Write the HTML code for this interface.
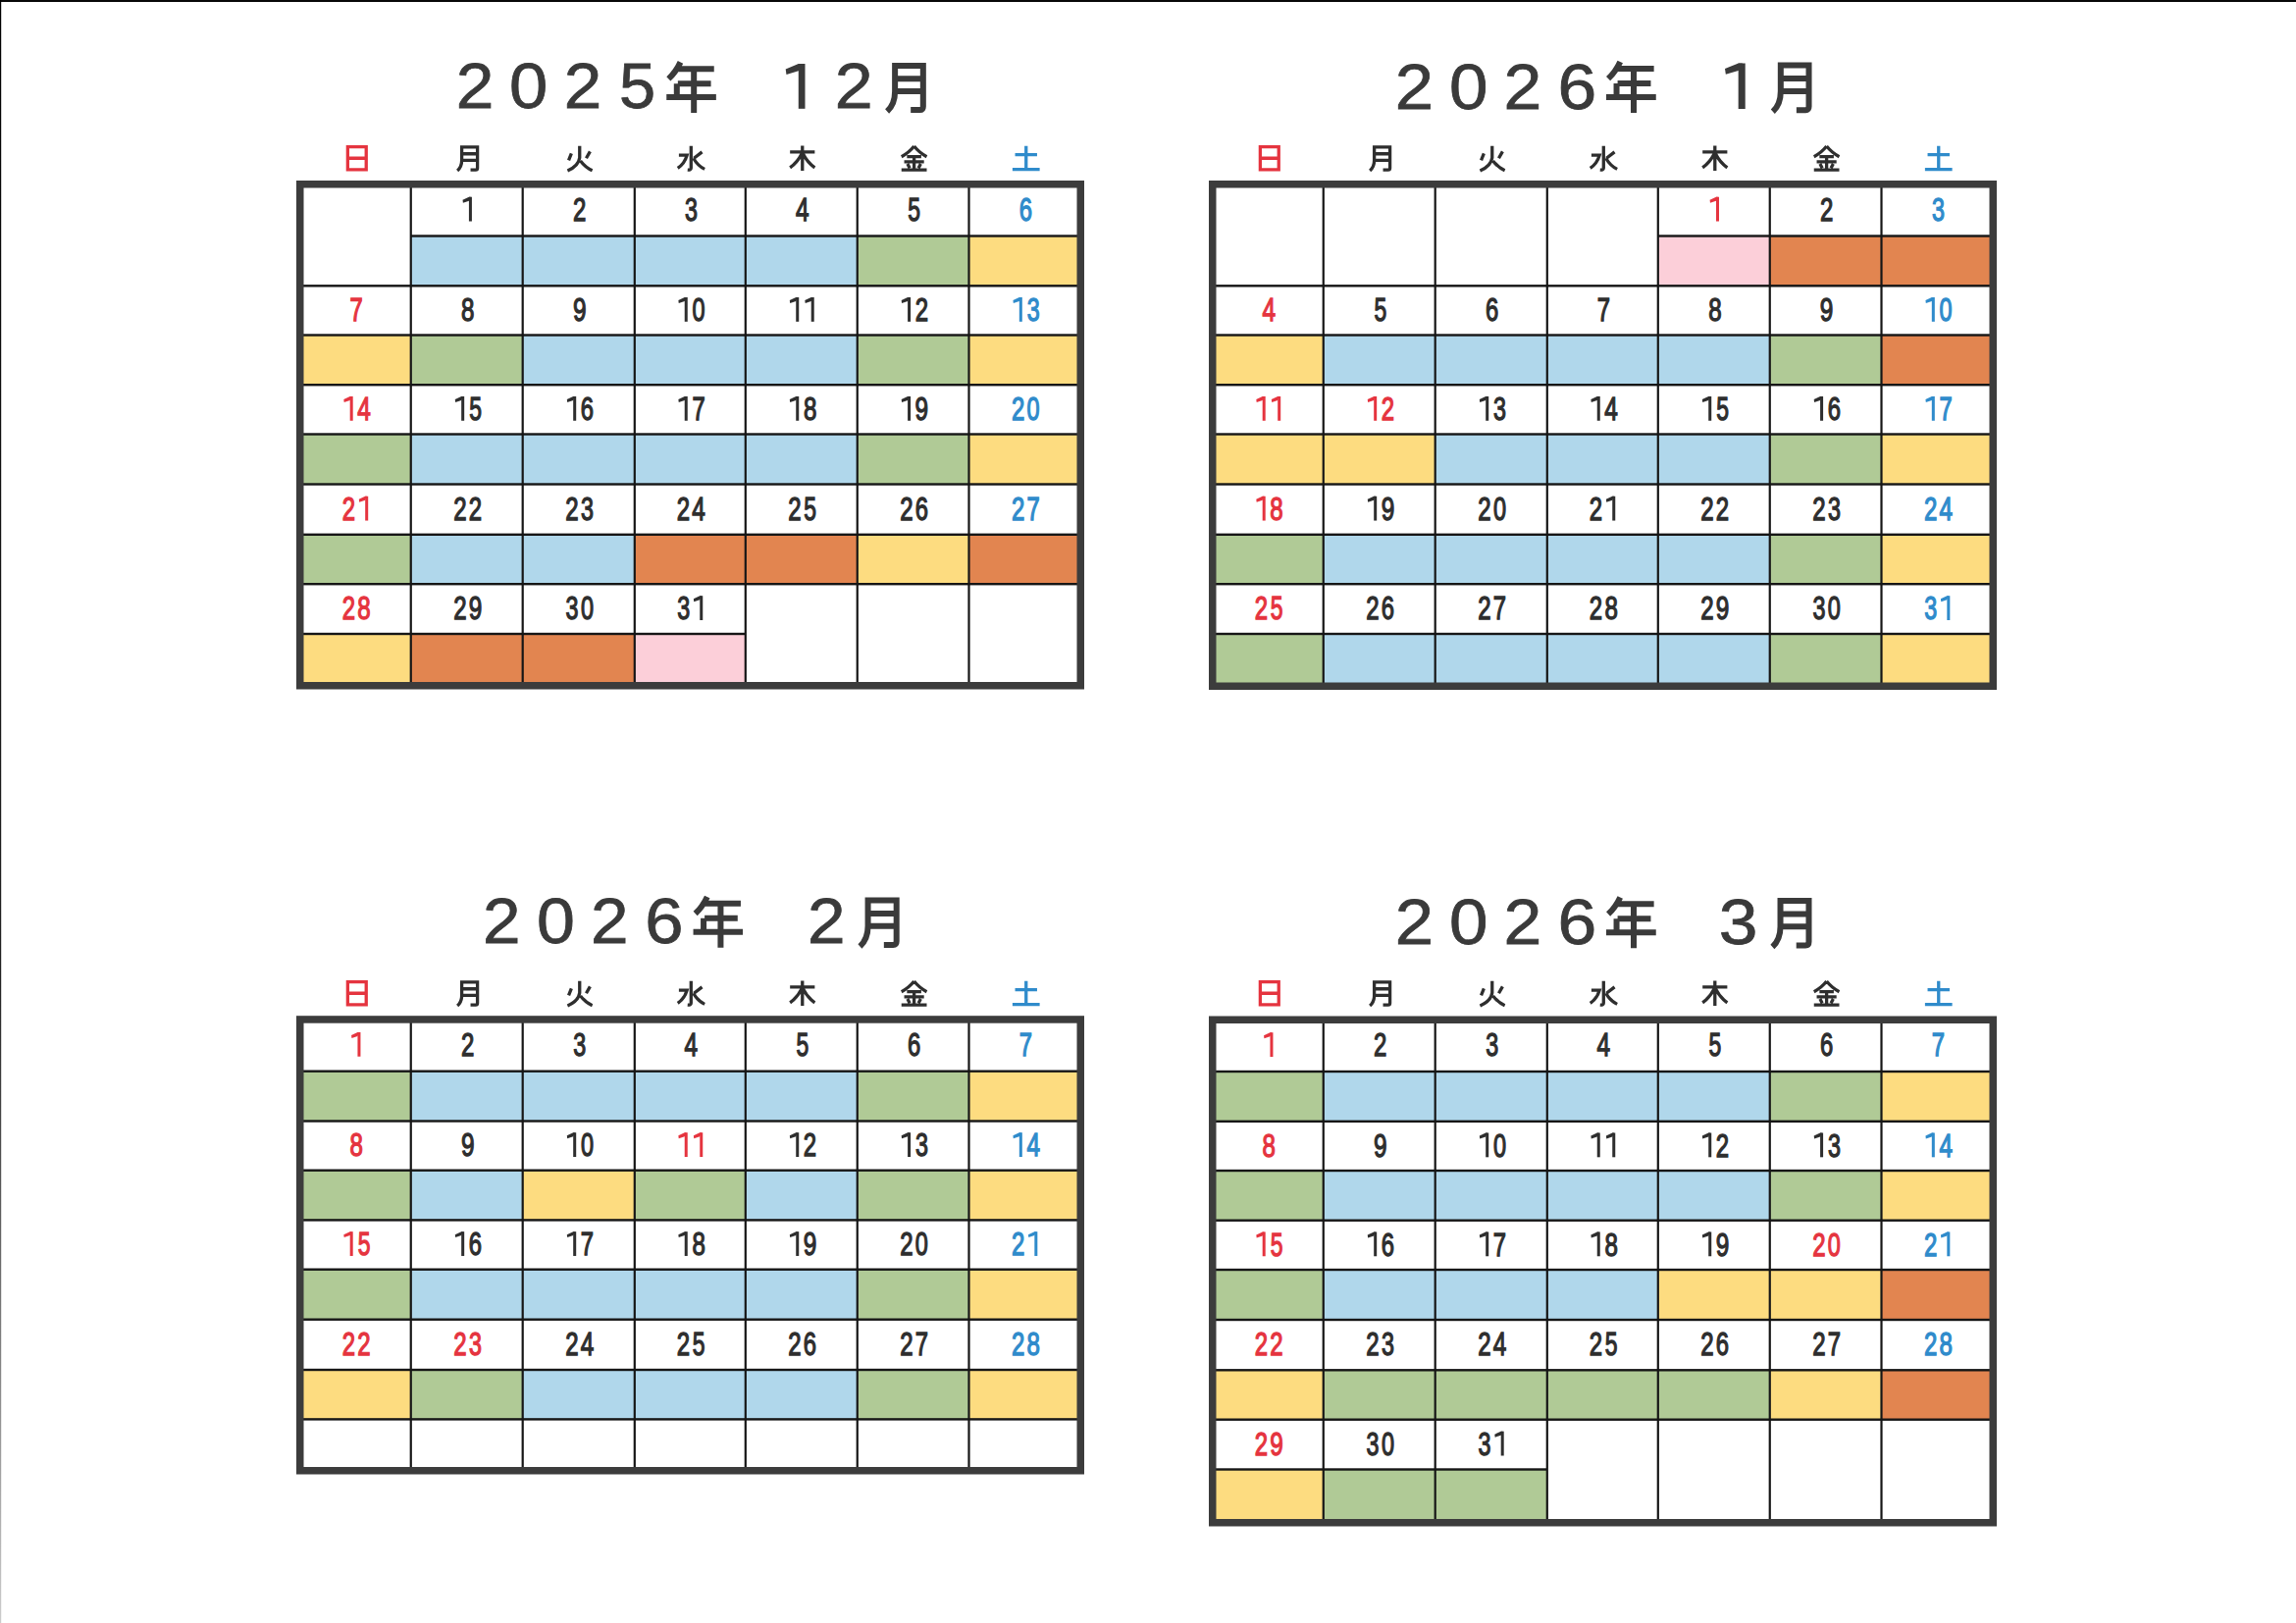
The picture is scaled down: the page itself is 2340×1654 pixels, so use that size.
<!DOCTYPE html>
<html><head><meta charset="utf-8"><style>
html,body{margin:0;padding:0;background:#fff;width:2340px;height:1654px;overflow:hidden;position:relative;font-family:"Liberation Sans",sans-serif;}
</style></head><body>
<svg width="2340" height="1654" viewBox="0 0 2340 1654" style="position:absolute;left:0;top:0" font-family="Liberation Sans, sans-serif">
<rect width="2340" height="1654" fill="#fff"/>
<defs><linearGradient id="lg" x1="0" y1="0" x2="0" y2="1"><stop offset="0" stop-color="#000"/><stop offset="0.6" stop-color="#222"/><stop offset="0.85" stop-color="#888"/><stop offset="1" stop-color="#ccc"/></linearGradient></defs>
<rect x="0" y="0" width="2340" height="2" fill="#080808"/>
<rect x="0" y="0" width="1.2" height="1654" fill="url(#lg)"/>
<rect x="302" y="184" width="803" height="518.5" fill="#fff"/>
<rect x="418.75" y="240.50" width="113.95" height="50.80" fill="#B0D7EB"/>
<rect x="532.70" y="240.50" width="114.10" height="50.80" fill="#B0D7EB"/>
<rect x="646.80" y="240.50" width="113.00" height="50.80" fill="#B0D7EB"/>
<rect x="759.80" y="240.50" width="113.95" height="50.80" fill="#B0D7EB"/>
<rect x="873.75" y="240.50" width="113.75" height="50.80" fill="#B0CA96"/>
<rect x="987.50" y="240.50" width="113.75" height="50.80" fill="#FDDC80"/>
<rect x="305.75" y="341.50" width="113.00" height="50.70" fill="#FDDC80"/>
<rect x="418.75" y="341.50" width="113.95" height="50.70" fill="#B0CA96"/>
<rect x="532.70" y="341.50" width="114.10" height="50.70" fill="#B0D7EB"/>
<rect x="646.80" y="341.50" width="113.00" height="50.70" fill="#B0D7EB"/>
<rect x="759.80" y="341.50" width="113.95" height="50.70" fill="#B0D7EB"/>
<rect x="873.75" y="341.50" width="113.75" height="50.70" fill="#B0CA96"/>
<rect x="987.50" y="341.50" width="113.75" height="50.70" fill="#FDDC80"/>
<rect x="305.75" y="442.50" width="113.00" height="51.00" fill="#B0CA96"/>
<rect x="418.75" y="442.50" width="113.95" height="51.00" fill="#B0D7EB"/>
<rect x="532.70" y="442.50" width="114.10" height="51.00" fill="#B0D7EB"/>
<rect x="646.80" y="442.50" width="113.00" height="51.00" fill="#B0D7EB"/>
<rect x="759.80" y="442.50" width="113.95" height="51.00" fill="#B0D7EB"/>
<rect x="873.75" y="442.50" width="113.75" height="51.00" fill="#B0CA96"/>
<rect x="987.50" y="442.50" width="113.75" height="51.00" fill="#FDDC80"/>
<rect x="305.75" y="544.80" width="113.00" height="50.40" fill="#B0CA96"/>
<rect x="418.75" y="544.80" width="113.95" height="50.40" fill="#B0D7EB"/>
<rect x="532.70" y="544.80" width="114.10" height="50.40" fill="#B0D7EB"/>
<rect x="646.80" y="544.80" width="113.00" height="50.40" fill="#E28550"/>
<rect x="759.80" y="544.80" width="113.95" height="50.40" fill="#E28550"/>
<rect x="873.75" y="544.80" width="113.75" height="50.40" fill="#FDDC80"/>
<rect x="987.50" y="544.80" width="113.75" height="50.40" fill="#E28550"/>
<rect x="305.75" y="646.00" width="113.00" height="52.75" fill="#FDDC80"/>
<rect x="418.75" y="646.00" width="113.95" height="52.75" fill="#E28550"/>
<rect x="532.70" y="646.00" width="114.10" height="52.75" fill="#E28550"/>
<rect x="646.80" y="646.00" width="113.00" height="52.75" fill="#FCCFD9"/>
<rect x="418.75" y="239.30" width="686.25" height="2.4" fill="#161616"/>
<rect x="305.75" y="290.10" width="795.5" height="2.4" fill="#161616"/>
<rect x="302.00" y="340.30" width="803.00" height="2.4" fill="#161616"/>
<rect x="305.75" y="391.00" width="795.5" height="2.4" fill="#161616"/>
<rect x="302.00" y="441.30" width="803.00" height="2.4" fill="#161616"/>
<rect x="305.75" y="492.30" width="795.5" height="2.4" fill="#161616"/>
<rect x="302.00" y="543.60" width="803.00" height="2.4" fill="#161616"/>
<rect x="305.75" y="594.00" width="795.5" height="2.4" fill="#161616"/>
<rect x="302.00" y="644.80" width="457.80" height="2.4" fill="#161616"/>
<rect x="417.65" y="187.75" width="2.2" height="511.0" fill="#161616"/>
<rect x="531.60" y="187.75" width="2.2" height="511.0" fill="#161616"/>
<rect x="645.70" y="187.75" width="2.2" height="511.0" fill="#161616"/>
<rect x="758.70" y="187.75" width="2.2" height="511.0" fill="#161616"/>
<rect x="872.65" y="187.75" width="2.2" height="511.0" fill="#161616"/>
<rect x="986.40" y="187.75" width="2.2" height="511.0" fill="#161616"/>
<rect x="305.75" y="187.75" width="795.5" height="511.0" fill="none" stroke="#3c3c3c" stroke-width="7.5"/>
<path d="M477.92,200.72 h3.01 V225.53 h-3.01 Z" fill="#2E2E2E"/>
<path d="M479.72,200.72 L477.92,200.72 L471.53,203.70 L471.90,206.68 L477.93,204.69 Z" fill="#2E2E2E"/>
<text transform="translate(584.03,224.85) scale(0.2400,0.3351)" font-size="100" fill="#2E2E2E" stroke="#2E2E2E" stroke-width="4.0">2</text>
<text transform="translate(697.88,224.85) scale(0.2333,0.3351)" font-size="100" fill="#2E2E2E" stroke="#2E2E2E" stroke-width="4.0">3</text>
<text transform="translate(811.07,224.85) scale(0.2436,0.3351)" font-size="100" fill="#2E2E2E" stroke="#2E2E2E" stroke-width="4.0">4</text>
<text transform="translate(925.32,224.85) scale(0.2294,0.3351)" font-size="100" fill="#2E2E2E" stroke="#2E2E2E" stroke-width="4.0">5</text>
<text transform="translate(1038.71,224.85) scale(0.2380,0.3351)" font-size="100" fill="#2F8BCB" stroke="#2F8BCB" stroke-width="4.0">6</text>
<text transform="translate(356.59,327.13) scale(0.2380,0.3351)" font-size="100" fill="#E5343F" stroke="#E5343F" stroke-width="4.0">7</text>
<text transform="translate(470.09,327.13) scale(0.2412,0.3351)" font-size="100" fill="#2E2E2E" stroke="#2E2E2E" stroke-width="4.0">8</text>
<text transform="translate(583.92,327.13) scale(0.2440,0.3351)" font-size="100" fill="#2E2E2E" stroke="#2E2E2E" stroke-width="4.0">9</text>
<path d="M697.74,303.00 h3.01 V327.80 h-3.01 Z" fill="#2E2E2E"/>
<path d="M699.55,303.00 L697.74,303.00 L691.35,305.98 L691.73,308.95 L697.75,306.97 Z" fill="#2E2E2E"/>
<text transform="translate(705.48,327.13) scale(0.2346,0.3351)" font-size="100" fill="#2E2E2E" stroke="#2E2E2E" stroke-width="4.0">0</text>
<path d="M811.22,303.00 h3.01 V327.80 h-3.01 Z" fill="#2E2E2E"/>
<path d="M813.02,303.00 L811.22,303.00 L804.82,305.98 L805.20,308.95 L811.23,306.97 Z" fill="#2E2E2E"/>
<path d="M826.72,303.00 h3.01 V327.80 h-3.01 Z" fill="#2E2E2E"/>
<path d="M828.52,303.00 L826.72,303.00 L820.32,305.98 L820.70,308.95 L826.73,306.97 Z" fill="#2E2E2E"/>
<path d="M925.07,303.00 h3.01 V327.80 h-3.01 Z" fill="#2E2E2E"/>
<path d="M926.87,303.00 L925.07,303.00 L918.67,305.98 L919.05,308.95 L925.08,306.97 Z" fill="#2E2E2E"/>
<text transform="translate(932.65,327.13) scale(0.2400,0.3351)" font-size="100" fill="#2E2E2E" stroke="#2E2E2E" stroke-width="4.0">2</text>
<path d="M1038.82,303.00 h3.01 V327.80 h-3.01 Z" fill="#2F8BCB"/>
<path d="M1040.62,303.00 L1038.82,303.00 L1032.42,305.98 L1032.80,308.95 L1038.83,306.97 Z" fill="#2F8BCB"/>
<text transform="translate(1046.71,327.13) scale(0.2333,0.3351)" font-size="100" fill="#2F8BCB" stroke="#2F8BCB" stroke-width="4.0">3</text>
<path d="M356.69,403.95 h3.01 V428.75 h-3.01 Z" fill="#E5343F"/>
<path d="M358.50,403.95 L356.69,403.95 L350.30,406.93 L350.68,409.90 L356.70,407.92 Z" fill="#E5343F"/>
<text transform="translate(364.30,428.08) scale(0.2436,0.3351)" font-size="100" fill="#E5343F" stroke="#E5343F" stroke-width="4.0">4</text>
<path d="M470.17,403.95 h3.01 V428.75 h-3.01 Z" fill="#2E2E2E"/>
<path d="M471.97,403.95 L470.17,403.95 L463.78,406.93 L464.15,409.90 L470.18,407.92 Z" fill="#2E2E2E"/>
<text transform="translate(478.17,428.08) scale(0.2294,0.3351)" font-size="100" fill="#2E2E2E" stroke="#2E2E2E" stroke-width="4.0">5</text>
<path d="M584.19,403.95 h3.01 V428.75 h-3.01 Z" fill="#2E2E2E"/>
<path d="M586.00,403.95 L584.19,403.95 L577.80,406.93 L578.18,409.90 L584.20,407.92 Z" fill="#2E2E2E"/>
<text transform="translate(591.84,428.08) scale(0.2380,0.3351)" font-size="100" fill="#2E2E2E" stroke="#2E2E2E" stroke-width="4.0">6</text>
<path d="M697.74,403.95 h3.01 V428.75 h-3.01 Z" fill="#2E2E2E"/>
<path d="M699.55,403.95 L697.74,403.95 L691.35,406.93 L691.73,409.90 L697.75,407.92 Z" fill="#2E2E2E"/>
<text transform="translate(705.39,428.08) scale(0.2380,0.3351)" font-size="100" fill="#2E2E2E" stroke="#2E2E2E" stroke-width="4.0">7</text>
<path d="M811.22,403.95 h3.01 V428.75 h-3.01 Z" fill="#2E2E2E"/>
<path d="M813.02,403.95 L811.22,403.95 L804.82,406.93 L805.20,409.90 L811.23,407.92 Z" fill="#2E2E2E"/>
<text transform="translate(818.89,428.08) scale(0.2412,0.3351)" font-size="100" fill="#2E2E2E" stroke="#2E2E2E" stroke-width="4.0">8</text>
<path d="M925.07,403.95 h3.01 V428.75 h-3.01 Z" fill="#2E2E2E"/>
<path d="M926.87,403.95 L925.07,403.95 L918.67,406.93 L919.05,409.90 L925.08,407.92 Z" fill="#2E2E2E"/>
<text transform="translate(932.54,428.08) scale(0.2440,0.3351)" font-size="100" fill="#2E2E2E" stroke="#2E2E2E" stroke-width="4.0">9</text>
<text transform="translate(1030.90,428.08) scale(0.2400,0.3351)" font-size="100" fill="#2F8BCB" stroke="#2F8BCB" stroke-width="4.0">2</text>
<text transform="translate(1046.56,428.08) scale(0.2346,0.3351)" font-size="100" fill="#2F8BCB" stroke="#2F8BCB" stroke-width="4.0">0</text>
<text transform="translate(348.78,529.88) scale(0.2400,0.3351)" font-size="100" fill="#E5343F" stroke="#E5343F" stroke-width="4.0">2</text>
<path d="M372.19,505.75 h3.01 V530.55 h-3.01 Z" fill="#E5343F"/>
<path d="M374.00,505.75 L372.19,505.75 L365.80,508.73 L366.18,511.70 L372.20,509.72 Z" fill="#E5343F"/>
<text transform="translate(462.25,529.88) scale(0.2400,0.3351)" font-size="100" fill="#2E2E2E" stroke="#2E2E2E" stroke-width="4.0">2</text>
<text transform="translate(477.75,529.88) scale(0.2400,0.3351)" font-size="100" fill="#2E2E2E" stroke="#2E2E2E" stroke-width="4.0">2</text>
<text transform="translate(576.28,529.88) scale(0.2400,0.3351)" font-size="100" fill="#2E2E2E" stroke="#2E2E2E" stroke-width="4.0">2</text>
<text transform="translate(592.08,529.88) scale(0.2333,0.3351)" font-size="100" fill="#2E2E2E" stroke="#2E2E2E" stroke-width="4.0">3</text>
<text transform="translate(689.83,529.88) scale(0.2400,0.3351)" font-size="100" fill="#2E2E2E" stroke="#2E2E2E" stroke-width="4.0">2</text>
<text transform="translate(705.35,529.88) scale(0.2436,0.3351)" font-size="100" fill="#2E2E2E" stroke="#2E2E2E" stroke-width="4.0">4</text>
<text transform="translate(803.30,529.88) scale(0.2400,0.3351)" font-size="100" fill="#2E2E2E" stroke="#2E2E2E" stroke-width="4.0">2</text>
<text transform="translate(819.22,529.88) scale(0.2294,0.3351)" font-size="100" fill="#2E2E2E" stroke="#2E2E2E" stroke-width="4.0">5</text>
<text transform="translate(917.15,529.88) scale(0.2400,0.3351)" font-size="100" fill="#2E2E2E" stroke="#2E2E2E" stroke-width="4.0">2</text>
<text transform="translate(932.71,529.88) scale(0.2380,0.3351)" font-size="100" fill="#2E2E2E" stroke="#2E2E2E" stroke-width="4.0">6</text>
<text transform="translate(1030.90,529.88) scale(0.2400,0.3351)" font-size="100" fill="#2F8BCB" stroke="#2F8BCB" stroke-width="4.0">2</text>
<text transform="translate(1046.46,529.88) scale(0.2380,0.3351)" font-size="100" fill="#2F8BCB" stroke="#2F8BCB" stroke-width="4.0">7</text>
<text transform="translate(348.78,631.33) scale(0.2400,0.3351)" font-size="100" fill="#E5343F" stroke="#E5343F" stroke-width="4.0">2</text>
<text transform="translate(364.37,631.33) scale(0.2412,0.3351)" font-size="100" fill="#E5343F" stroke="#E5343F" stroke-width="4.0">8</text>
<text transform="translate(462.25,631.33) scale(0.2400,0.3351)" font-size="100" fill="#2E2E2E" stroke="#2E2E2E" stroke-width="4.0">2</text>
<text transform="translate(477.64,631.33) scale(0.2440,0.3351)" font-size="100" fill="#2E2E2E" stroke="#2E2E2E" stroke-width="4.0">9</text>
<text transform="translate(576.58,631.33) scale(0.2333,0.3351)" font-size="100" fill="#2E2E2E" stroke="#2E2E2E" stroke-width="4.0">3</text>
<text transform="translate(591.93,631.33) scale(0.2346,0.3351)" font-size="100" fill="#2E2E2E" stroke="#2E2E2E" stroke-width="4.0">0</text>
<text transform="translate(690.13,631.33) scale(0.2333,0.3351)" font-size="100" fill="#2E2E2E" stroke="#2E2E2E" stroke-width="4.0">3</text>
<path d="M713.24,607.20 h3.01 V632.00 h-3.01 Z" fill="#2E2E2E"/>
<path d="M715.05,607.20 L713.24,607.20 L706.85,610.18 L707.23,613.15 L713.25,611.17 Z" fill="#2E2E2E"/>
<rect x="1232" y="184" width="803" height="519" fill="#fff"/>
<rect x="1689.80" y="240.50" width="113.95" height="50.80" fill="#FCCFD9"/>
<rect x="1803.75" y="240.50" width="113.75" height="50.80" fill="#E28550"/>
<rect x="1917.50" y="240.50" width="113.75" height="50.80" fill="#E28550"/>
<rect x="1235.75" y="341.50" width="113.00" height="50.70" fill="#FDDC80"/>
<rect x="1348.75" y="341.50" width="113.95" height="50.70" fill="#B0D7EB"/>
<rect x="1462.70" y="341.50" width="114.10" height="50.70" fill="#B0D7EB"/>
<rect x="1576.80" y="341.50" width="113.00" height="50.70" fill="#B0D7EB"/>
<rect x="1689.80" y="341.50" width="113.95" height="50.70" fill="#B0D7EB"/>
<rect x="1803.75" y="341.50" width="113.75" height="50.70" fill="#B0CA96"/>
<rect x="1917.50" y="341.50" width="113.75" height="50.70" fill="#E28550"/>
<rect x="1235.75" y="442.50" width="113.00" height="51.00" fill="#FDDC80"/>
<rect x="1348.75" y="442.50" width="113.95" height="51.00" fill="#FDDC80"/>
<rect x="1462.70" y="442.50" width="114.10" height="51.00" fill="#B0D7EB"/>
<rect x="1576.80" y="442.50" width="113.00" height="51.00" fill="#B0D7EB"/>
<rect x="1689.80" y="442.50" width="113.95" height="51.00" fill="#B0D7EB"/>
<rect x="1803.75" y="442.50" width="113.75" height="51.00" fill="#B0CA96"/>
<rect x="1917.50" y="442.50" width="113.75" height="51.00" fill="#FDDC80"/>
<rect x="1235.75" y="544.80" width="113.00" height="50.40" fill="#B0CA96"/>
<rect x="1348.75" y="544.80" width="113.95" height="50.40" fill="#B0D7EB"/>
<rect x="1462.70" y="544.80" width="114.10" height="50.40" fill="#B0D7EB"/>
<rect x="1576.80" y="544.80" width="113.00" height="50.40" fill="#B0D7EB"/>
<rect x="1689.80" y="544.80" width="113.95" height="50.40" fill="#B0D7EB"/>
<rect x="1803.75" y="544.80" width="113.75" height="50.40" fill="#B0CA96"/>
<rect x="1917.50" y="544.80" width="113.75" height="50.40" fill="#FDDC80"/>
<rect x="1235.75" y="646.00" width="113.00" height="53.25" fill="#B0CA96"/>
<rect x="1348.75" y="646.00" width="113.95" height="53.25" fill="#B0D7EB"/>
<rect x="1462.70" y="646.00" width="114.10" height="53.25" fill="#B0D7EB"/>
<rect x="1576.80" y="646.00" width="113.00" height="53.25" fill="#B0D7EB"/>
<rect x="1689.80" y="646.00" width="113.95" height="53.25" fill="#B0D7EB"/>
<rect x="1803.75" y="646.00" width="113.75" height="53.25" fill="#B0CA96"/>
<rect x="1917.50" y="646.00" width="113.75" height="53.25" fill="#FDDC80"/>
<rect x="1689.80" y="239.30" width="345.20" height="2.4" fill="#161616"/>
<rect x="1235.75" y="290.10" width="795.5" height="2.4" fill="#161616"/>
<rect x="1232.00" y="340.30" width="803.00" height="2.4" fill="#161616"/>
<rect x="1235.75" y="391.00" width="795.5" height="2.4" fill="#161616"/>
<rect x="1232.00" y="441.30" width="803.00" height="2.4" fill="#161616"/>
<rect x="1235.75" y="492.30" width="795.5" height="2.4" fill="#161616"/>
<rect x="1232.00" y="543.60" width="803.00" height="2.4" fill="#161616"/>
<rect x="1235.75" y="594.00" width="795.5" height="2.4" fill="#161616"/>
<rect x="1232.00" y="644.80" width="803.00" height="2.4" fill="#161616"/>
<rect x="1347.65" y="187.75" width="2.2" height="511.5" fill="#161616"/>
<rect x="1461.60" y="187.75" width="2.2" height="511.5" fill="#161616"/>
<rect x="1575.70" y="187.75" width="2.2" height="511.5" fill="#161616"/>
<rect x="1688.70" y="187.75" width="2.2" height="511.5" fill="#161616"/>
<rect x="1802.65" y="187.75" width="2.2" height="511.5" fill="#161616"/>
<rect x="1916.40" y="187.75" width="2.2" height="511.5" fill="#161616"/>
<rect x="1235.75" y="187.75" width="795.5" height="511.5" fill="none" stroke="#3c3c3c" stroke-width="7.5"/>
<path d="M1748.97,200.72 h3.01 V225.53 h-3.01 Z" fill="#E5343F"/>
<path d="M1750.77,200.72 L1748.97,200.72 L1742.58,203.70 L1742.95,206.68 L1748.98,204.69 Z" fill="#E5343F"/>
<text transform="translate(1854.90,224.85) scale(0.2400,0.3351)" font-size="100" fill="#2E2E2E" stroke="#2E2E2E" stroke-width="4.0">2</text>
<text transform="translate(1968.96,224.85) scale(0.2333,0.3351)" font-size="100" fill="#2F8BCB" stroke="#2F8BCB" stroke-width="4.0">3</text>
<text transform="translate(1286.55,327.13) scale(0.2436,0.3351)" font-size="100" fill="#E5343F" stroke="#E5343F" stroke-width="4.0">4</text>
<text transform="translate(1400.42,327.13) scale(0.2294,0.3351)" font-size="100" fill="#2E2E2E" stroke="#2E2E2E" stroke-width="4.0">5</text>
<text transform="translate(1514.09,327.13) scale(0.2380,0.3351)" font-size="100" fill="#2E2E2E" stroke="#2E2E2E" stroke-width="4.0">6</text>
<text transform="translate(1627.64,327.13) scale(0.2380,0.3351)" font-size="100" fill="#2E2E2E" stroke="#2E2E2E" stroke-width="4.0">7</text>
<text transform="translate(1741.14,327.13) scale(0.2412,0.3351)" font-size="100" fill="#2E2E2E" stroke="#2E2E2E" stroke-width="4.0">8</text>
<text transform="translate(1854.79,327.13) scale(0.2440,0.3351)" font-size="100" fill="#2E2E2E" stroke="#2E2E2E" stroke-width="4.0">9</text>
<path d="M1968.82,303.00 h3.01 V327.80 h-3.01 Z" fill="#2F8BCB"/>
<path d="M1970.62,303.00 L1968.82,303.00 L1962.42,305.98 L1962.80,308.95 L1968.83,306.97 Z" fill="#2F8BCB"/>
<text transform="translate(1976.56,327.13) scale(0.2346,0.3351)" font-size="100" fill="#2F8BCB" stroke="#2F8BCB" stroke-width="4.0">0</text>
<path d="M1286.69,403.95 h3.01 V428.75 h-3.01 Z" fill="#E5343F"/>
<path d="M1288.50,403.95 L1286.69,403.95 L1280.30,406.93 L1280.68,409.90 L1286.70,407.92 Z" fill="#E5343F"/>
<path d="M1302.19,403.95 h3.01 V428.75 h-3.01 Z" fill="#E5343F"/>
<path d="M1304.00,403.95 L1302.19,403.95 L1295.80,406.93 L1296.18,409.90 L1302.20,407.92 Z" fill="#E5343F"/>
<path d="M1400.17,403.95 h3.01 V428.75 h-3.01 Z" fill="#E5343F"/>
<path d="M1401.97,403.95 L1400.17,403.95 L1393.77,406.93 L1394.15,409.90 L1400.18,407.92 Z" fill="#E5343F"/>
<text transform="translate(1407.75,428.08) scale(0.2400,0.3351)" font-size="100" fill="#E5343F" stroke="#E5343F" stroke-width="4.0">2</text>
<path d="M1514.19,403.95 h3.01 V428.75 h-3.01 Z" fill="#2E2E2E"/>
<path d="M1516.00,403.95 L1514.19,403.95 L1507.80,406.93 L1508.18,409.90 L1514.20,407.92 Z" fill="#2E2E2E"/>
<text transform="translate(1522.08,428.08) scale(0.2333,0.3351)" font-size="100" fill="#2E2E2E" stroke="#2E2E2E" stroke-width="4.0">3</text>
<path d="M1627.74,403.95 h3.01 V428.75 h-3.01 Z" fill="#2E2E2E"/>
<path d="M1629.55,403.95 L1627.74,403.95 L1621.35,406.93 L1621.73,409.90 L1627.75,407.92 Z" fill="#2E2E2E"/>
<text transform="translate(1635.35,428.08) scale(0.2436,0.3351)" font-size="100" fill="#2E2E2E" stroke="#2E2E2E" stroke-width="4.0">4</text>
<path d="M1741.22,403.95 h3.01 V428.75 h-3.01 Z" fill="#2E2E2E"/>
<path d="M1743.02,403.95 L1741.22,403.95 L1734.83,406.93 L1735.20,409.90 L1741.23,407.92 Z" fill="#2E2E2E"/>
<text transform="translate(1749.22,428.08) scale(0.2294,0.3351)" font-size="100" fill="#2E2E2E" stroke="#2E2E2E" stroke-width="4.0">5</text>
<path d="M1855.07,403.95 h3.01 V428.75 h-3.01 Z" fill="#2E2E2E"/>
<path d="M1856.87,403.95 L1855.07,403.95 L1848.67,406.93 L1849.05,409.90 L1855.08,407.92 Z" fill="#2E2E2E"/>
<text transform="translate(1862.71,428.08) scale(0.2380,0.3351)" font-size="100" fill="#2E2E2E" stroke="#2E2E2E" stroke-width="4.0">6</text>
<path d="M1968.82,403.95 h3.01 V428.75 h-3.01 Z" fill="#2F8BCB"/>
<path d="M1970.62,403.95 L1968.82,403.95 L1962.42,406.93 L1962.80,409.90 L1968.83,407.92 Z" fill="#2F8BCB"/>
<text transform="translate(1976.46,428.08) scale(0.2380,0.3351)" font-size="100" fill="#2F8BCB" stroke="#2F8BCB" stroke-width="4.0">7</text>
<path d="M1286.69,505.75 h3.01 V530.55 h-3.01 Z" fill="#E5343F"/>
<path d="M1288.50,505.75 L1286.69,505.75 L1280.30,508.73 L1280.68,511.70 L1286.70,509.72 Z" fill="#E5343F"/>
<text transform="translate(1294.37,529.88) scale(0.2412,0.3351)" font-size="100" fill="#E5343F" stroke="#E5343F" stroke-width="4.0">8</text>
<path d="M1400.17,505.75 h3.01 V530.55 h-3.01 Z" fill="#2E2E2E"/>
<path d="M1401.97,505.75 L1400.17,505.75 L1393.77,508.73 L1394.15,511.70 L1400.18,509.72 Z" fill="#2E2E2E"/>
<text transform="translate(1407.64,529.88) scale(0.2440,0.3351)" font-size="100" fill="#2E2E2E" stroke="#2E2E2E" stroke-width="4.0">9</text>
<text transform="translate(1506.28,529.88) scale(0.2400,0.3351)" font-size="100" fill="#2E2E2E" stroke="#2E2E2E" stroke-width="4.0">2</text>
<text transform="translate(1521.93,529.88) scale(0.2346,0.3351)" font-size="100" fill="#2E2E2E" stroke="#2E2E2E" stroke-width="4.0">0</text>
<text transform="translate(1619.83,529.88) scale(0.2400,0.3351)" font-size="100" fill="#2E2E2E" stroke="#2E2E2E" stroke-width="4.0">2</text>
<path d="M1643.24,505.75 h3.01 V530.55 h-3.01 Z" fill="#2E2E2E"/>
<path d="M1645.05,505.75 L1643.24,505.75 L1636.85,508.73 L1637.23,511.70 L1643.25,509.72 Z" fill="#2E2E2E"/>
<text transform="translate(1733.31,529.88) scale(0.2400,0.3351)" font-size="100" fill="#2E2E2E" stroke="#2E2E2E" stroke-width="4.0">2</text>
<text transform="translate(1748.81,529.88) scale(0.2400,0.3351)" font-size="100" fill="#2E2E2E" stroke="#2E2E2E" stroke-width="4.0">2</text>
<text transform="translate(1847.15,529.88) scale(0.2400,0.3351)" font-size="100" fill="#2E2E2E" stroke="#2E2E2E" stroke-width="4.0">2</text>
<text transform="translate(1862.96,529.88) scale(0.2333,0.3351)" font-size="100" fill="#2E2E2E" stroke="#2E2E2E" stroke-width="4.0">3</text>
<text transform="translate(1960.90,529.88) scale(0.2400,0.3351)" font-size="100" fill="#2F8BCB" stroke="#2F8BCB" stroke-width="4.0">2</text>
<text transform="translate(1976.42,529.88) scale(0.2436,0.3351)" font-size="100" fill="#2F8BCB" stroke="#2F8BCB" stroke-width="4.0">4</text>
<text transform="translate(1278.78,631.33) scale(0.2400,0.3351)" font-size="100" fill="#E5343F" stroke="#E5343F" stroke-width="4.0">2</text>
<text transform="translate(1294.69,631.33) scale(0.2294,0.3351)" font-size="100" fill="#E5343F" stroke="#E5343F" stroke-width="4.0">5</text>
<text transform="translate(1392.25,631.33) scale(0.2400,0.3351)" font-size="100" fill="#2E2E2E" stroke="#2E2E2E" stroke-width="4.0">2</text>
<text transform="translate(1407.81,631.33) scale(0.2380,0.3351)" font-size="100" fill="#2E2E2E" stroke="#2E2E2E" stroke-width="4.0">6</text>
<text transform="translate(1506.28,631.33) scale(0.2400,0.3351)" font-size="100" fill="#2E2E2E" stroke="#2E2E2E" stroke-width="4.0">2</text>
<text transform="translate(1521.84,631.33) scale(0.2380,0.3351)" font-size="100" fill="#2E2E2E" stroke="#2E2E2E" stroke-width="4.0">7</text>
<text transform="translate(1619.83,631.33) scale(0.2400,0.3351)" font-size="100" fill="#2E2E2E" stroke="#2E2E2E" stroke-width="4.0">2</text>
<text transform="translate(1635.42,631.33) scale(0.2412,0.3351)" font-size="100" fill="#2E2E2E" stroke="#2E2E2E" stroke-width="4.0">8</text>
<text transform="translate(1733.31,631.33) scale(0.2400,0.3351)" font-size="100" fill="#2E2E2E" stroke="#2E2E2E" stroke-width="4.0">2</text>
<text transform="translate(1748.69,631.33) scale(0.2440,0.3351)" font-size="100" fill="#2E2E2E" stroke="#2E2E2E" stroke-width="4.0">9</text>
<text transform="translate(1847.46,631.33) scale(0.2333,0.3351)" font-size="100" fill="#2E2E2E" stroke="#2E2E2E" stroke-width="4.0">3</text>
<text transform="translate(1862.81,631.33) scale(0.2346,0.3351)" font-size="100" fill="#2E2E2E" stroke="#2E2E2E" stroke-width="4.0">0</text>
<text transform="translate(1961.21,631.33) scale(0.2333,0.3351)" font-size="100" fill="#2F8BCB" stroke="#2F8BCB" stroke-width="4.0">3</text>
<path d="M1984.32,607.20 h3.01 V632.00 h-3.01 Z" fill="#2F8BCB"/>
<path d="M1986.12,607.20 L1984.32,607.20 L1977.92,610.18 L1978.30,613.15 L1984.33,611.17 Z" fill="#2F8BCB"/>
<rect x="302" y="1035.2" width="803" height="467.3" fill="#fff"/>
<rect x="305.75" y="1091.70" width="113.00" height="50.80" fill="#B0CA96"/>
<rect x="418.75" y="1091.70" width="113.95" height="50.80" fill="#B0D7EB"/>
<rect x="532.70" y="1091.70" width="114.10" height="50.80" fill="#B0D7EB"/>
<rect x="646.80" y="1091.70" width="113.00" height="50.80" fill="#B0D7EB"/>
<rect x="759.80" y="1091.70" width="113.95" height="50.80" fill="#B0D7EB"/>
<rect x="873.75" y="1091.70" width="113.75" height="50.80" fill="#B0CA96"/>
<rect x="987.50" y="1091.70" width="113.75" height="50.80" fill="#FDDC80"/>
<rect x="305.75" y="1192.70" width="113.00" height="50.70" fill="#B0CA96"/>
<rect x="418.75" y="1192.70" width="113.95" height="50.70" fill="#B0D7EB"/>
<rect x="532.70" y="1192.70" width="114.10" height="50.70" fill="#FDDC80"/>
<rect x="646.80" y="1192.70" width="113.00" height="50.70" fill="#B0CA96"/>
<rect x="759.80" y="1192.70" width="113.95" height="50.70" fill="#B0D7EB"/>
<rect x="873.75" y="1192.70" width="113.75" height="50.70" fill="#B0CA96"/>
<rect x="987.50" y="1192.70" width="113.75" height="50.70" fill="#FDDC80"/>
<rect x="305.75" y="1293.70" width="113.00" height="51.00" fill="#B0CA96"/>
<rect x="418.75" y="1293.70" width="113.95" height="51.00" fill="#B0D7EB"/>
<rect x="532.70" y="1293.70" width="114.10" height="51.00" fill="#B0D7EB"/>
<rect x="646.80" y="1293.70" width="113.00" height="51.00" fill="#B0D7EB"/>
<rect x="759.80" y="1293.70" width="113.95" height="51.00" fill="#B0D7EB"/>
<rect x="873.75" y="1293.70" width="113.75" height="51.00" fill="#B0CA96"/>
<rect x="987.50" y="1293.70" width="113.75" height="51.00" fill="#FDDC80"/>
<rect x="305.75" y="1396.00" width="113.00" height="50.40" fill="#FDDC80"/>
<rect x="418.75" y="1396.00" width="113.95" height="50.40" fill="#B0CA96"/>
<rect x="532.70" y="1396.00" width="114.10" height="50.40" fill="#B0D7EB"/>
<rect x="646.80" y="1396.00" width="113.00" height="50.40" fill="#B0D7EB"/>
<rect x="759.80" y="1396.00" width="113.95" height="50.40" fill="#B0D7EB"/>
<rect x="873.75" y="1396.00" width="113.75" height="50.40" fill="#B0CA96"/>
<rect x="987.50" y="1396.00" width="113.75" height="50.40" fill="#FDDC80"/>
<rect x="302.00" y="1090.50" width="803.00" height="2.4" fill="#161616"/>
<rect x="305.75" y="1141.30" width="795.5" height="2.4" fill="#161616"/>
<rect x="302.00" y="1191.50" width="803.00" height="2.4" fill="#161616"/>
<rect x="305.75" y="1242.20" width="795.5" height="2.4" fill="#161616"/>
<rect x="302.00" y="1292.50" width="803.00" height="2.4" fill="#161616"/>
<rect x="305.75" y="1343.50" width="795.5" height="2.4" fill="#161616"/>
<rect x="302.00" y="1394.80" width="803.00" height="2.4" fill="#161616"/>
<rect x="305.75" y="1445.20" width="795.5" height="2.4" fill="#161616"/>
<rect x="417.65" y="1038.95" width="2.2" height="459.8" fill="#161616"/>
<rect x="531.60" y="1038.95" width="2.2" height="459.8" fill="#161616"/>
<rect x="645.70" y="1038.95" width="2.2" height="459.8" fill="#161616"/>
<rect x="758.70" y="1038.95" width="2.2" height="459.8" fill="#161616"/>
<rect x="872.65" y="1038.95" width="2.2" height="459.8" fill="#161616"/>
<rect x="986.40" y="1038.95" width="2.2" height="459.8" fill="#161616"/>
<rect x="305.75" y="1038.95" width="795.5" height="459.8" fill="none" stroke="#3c3c3c" stroke-width="7.5"/>
<path d="M364.44,1051.92 h3.01 V1076.72 h-3.01 Z" fill="#E5343F"/>
<path d="M366.25,1051.92 L364.44,1051.92 L358.05,1054.90 L358.43,1057.88 L364.45,1055.89 Z" fill="#E5343F"/>
<text transform="translate(470.00,1076.05) scale(0.2400,0.3351)" font-size="100" fill="#2E2E2E" stroke="#2E2E2E" stroke-width="4.0">2</text>
<text transform="translate(584.33,1076.05) scale(0.2333,0.3351)" font-size="100" fill="#2E2E2E" stroke="#2E2E2E" stroke-width="4.0">3</text>
<text transform="translate(697.60,1076.05) scale(0.2436,0.3351)" font-size="100" fill="#2E2E2E" stroke="#2E2E2E" stroke-width="4.0">4</text>
<text transform="translate(811.47,1076.05) scale(0.2294,0.3351)" font-size="100" fill="#2E2E2E" stroke="#2E2E2E" stroke-width="4.0">5</text>
<text transform="translate(924.96,1076.05) scale(0.2380,0.3351)" font-size="100" fill="#2E2E2E" stroke="#2E2E2E" stroke-width="4.0">6</text>
<text transform="translate(1038.71,1076.05) scale(0.2380,0.3351)" font-size="100" fill="#2F8BCB" stroke="#2F8BCB" stroke-width="4.0">7</text>
<text transform="translate(356.62,1178.33) scale(0.2412,0.3351)" font-size="100" fill="#E5343F" stroke="#E5343F" stroke-width="4.0">8</text>
<text transform="translate(469.89,1178.33) scale(0.2440,0.3351)" font-size="100" fill="#2E2E2E" stroke="#2E2E2E" stroke-width="4.0">9</text>
<path d="M584.19,1154.20 h3.01 V1179.00 h-3.01 Z" fill="#2E2E2E"/>
<path d="M586.00,1154.20 L584.19,1154.20 L577.80,1157.18 L578.18,1160.15 L584.20,1158.17 Z" fill="#2E2E2E"/>
<text transform="translate(591.93,1178.33) scale(0.2346,0.3351)" font-size="100" fill="#2E2E2E" stroke="#2E2E2E" stroke-width="4.0">0</text>
<path d="M697.74,1154.20 h3.01 V1179.00 h-3.01 Z" fill="#E5343F"/>
<path d="M699.55,1154.20 L697.74,1154.20 L691.35,1157.18 L691.73,1160.15 L697.75,1158.17 Z" fill="#E5343F"/>
<path d="M713.24,1154.20 h3.01 V1179.00 h-3.01 Z" fill="#E5343F"/>
<path d="M715.05,1154.20 L713.24,1154.20 L706.85,1157.18 L707.23,1160.15 L713.25,1158.17 Z" fill="#E5343F"/>
<path d="M811.22,1154.20 h3.01 V1179.00 h-3.01 Z" fill="#2E2E2E"/>
<path d="M813.02,1154.20 L811.22,1154.20 L804.82,1157.18 L805.20,1160.15 L811.23,1158.17 Z" fill="#2E2E2E"/>
<text transform="translate(818.80,1178.33) scale(0.2400,0.3351)" font-size="100" fill="#2E2E2E" stroke="#2E2E2E" stroke-width="4.0">2</text>
<path d="M925.07,1154.20 h3.01 V1179.00 h-3.01 Z" fill="#2E2E2E"/>
<path d="M926.87,1154.20 L925.07,1154.20 L918.67,1157.18 L919.05,1160.15 L925.08,1158.17 Z" fill="#2E2E2E"/>
<text transform="translate(932.96,1178.33) scale(0.2333,0.3351)" font-size="100" fill="#2E2E2E" stroke="#2E2E2E" stroke-width="4.0">3</text>
<path d="M1038.82,1154.20 h3.01 V1179.00 h-3.01 Z" fill="#2F8BCB"/>
<path d="M1040.62,1154.20 L1038.82,1154.20 L1032.42,1157.18 L1032.80,1160.15 L1038.83,1158.17 Z" fill="#2F8BCB"/>
<text transform="translate(1046.42,1178.33) scale(0.2436,0.3351)" font-size="100" fill="#2F8BCB" stroke="#2F8BCB" stroke-width="4.0">4</text>
<path d="M356.69,1255.15 h3.01 V1279.95 h-3.01 Z" fill="#E5343F"/>
<path d="M358.50,1255.15 L356.69,1255.15 L350.30,1258.13 L350.68,1261.10 L356.70,1259.12 Z" fill="#E5343F"/>
<text transform="translate(364.69,1279.28) scale(0.2294,0.3351)" font-size="100" fill="#E5343F" stroke="#E5343F" stroke-width="4.0">5</text>
<path d="M470.17,1255.15 h3.01 V1279.95 h-3.01 Z" fill="#2E2E2E"/>
<path d="M471.97,1255.15 L470.17,1255.15 L463.78,1258.13 L464.15,1261.10 L470.18,1259.12 Z" fill="#2E2E2E"/>
<text transform="translate(477.81,1279.28) scale(0.2380,0.3351)" font-size="100" fill="#2E2E2E" stroke="#2E2E2E" stroke-width="4.0">6</text>
<path d="M584.19,1255.15 h3.01 V1279.95 h-3.01 Z" fill="#2E2E2E"/>
<path d="M586.00,1255.15 L584.19,1255.15 L577.80,1258.13 L578.18,1261.10 L584.20,1259.12 Z" fill="#2E2E2E"/>
<text transform="translate(591.84,1279.28) scale(0.2380,0.3351)" font-size="100" fill="#2E2E2E" stroke="#2E2E2E" stroke-width="4.0">7</text>
<path d="M697.74,1255.15 h3.01 V1279.95 h-3.01 Z" fill="#2E2E2E"/>
<path d="M699.55,1255.15 L697.74,1255.15 L691.35,1258.13 L691.73,1261.10 L697.75,1259.12 Z" fill="#2E2E2E"/>
<text transform="translate(705.42,1279.28) scale(0.2412,0.3351)" font-size="100" fill="#2E2E2E" stroke="#2E2E2E" stroke-width="4.0">8</text>
<path d="M811.22,1255.15 h3.01 V1279.95 h-3.01 Z" fill="#2E2E2E"/>
<path d="M813.02,1255.15 L811.22,1255.15 L804.82,1258.13 L805.20,1261.10 L811.23,1259.12 Z" fill="#2E2E2E"/>
<text transform="translate(818.69,1279.28) scale(0.2440,0.3351)" font-size="100" fill="#2E2E2E" stroke="#2E2E2E" stroke-width="4.0">9</text>
<text transform="translate(917.15,1279.28) scale(0.2400,0.3351)" font-size="100" fill="#2E2E2E" stroke="#2E2E2E" stroke-width="4.0">2</text>
<text transform="translate(932.81,1279.28) scale(0.2346,0.3351)" font-size="100" fill="#2E2E2E" stroke="#2E2E2E" stroke-width="4.0">0</text>
<text transform="translate(1030.90,1279.28) scale(0.2400,0.3351)" font-size="100" fill="#2F8BCB" stroke="#2F8BCB" stroke-width="4.0">2</text>
<path d="M1054.32,1255.15 h3.01 V1279.95 h-3.01 Z" fill="#2F8BCB"/>
<path d="M1056.12,1255.15 L1054.32,1255.15 L1047.92,1258.13 L1048.30,1261.10 L1054.33,1259.12 Z" fill="#2F8BCB"/>
<text transform="translate(348.78,1381.08) scale(0.2400,0.3351)" font-size="100" fill="#E5343F" stroke="#E5343F" stroke-width="4.0">2</text>
<text transform="translate(364.28,1381.08) scale(0.2400,0.3351)" font-size="100" fill="#E5343F" stroke="#E5343F" stroke-width="4.0">2</text>
<text transform="translate(462.25,1381.08) scale(0.2400,0.3351)" font-size="100" fill="#E5343F" stroke="#E5343F" stroke-width="4.0">2</text>
<text transform="translate(478.06,1381.08) scale(0.2333,0.3351)" font-size="100" fill="#E5343F" stroke="#E5343F" stroke-width="4.0">3</text>
<text transform="translate(576.28,1381.08) scale(0.2400,0.3351)" font-size="100" fill="#2E2E2E" stroke="#2E2E2E" stroke-width="4.0">2</text>
<text transform="translate(591.80,1381.08) scale(0.2436,0.3351)" font-size="100" fill="#2E2E2E" stroke="#2E2E2E" stroke-width="4.0">4</text>
<text transform="translate(689.83,1381.08) scale(0.2400,0.3351)" font-size="100" fill="#2E2E2E" stroke="#2E2E2E" stroke-width="4.0">2</text>
<text transform="translate(705.74,1381.08) scale(0.2294,0.3351)" font-size="100" fill="#2E2E2E" stroke="#2E2E2E" stroke-width="4.0">5</text>
<text transform="translate(803.30,1381.08) scale(0.2400,0.3351)" font-size="100" fill="#2E2E2E" stroke="#2E2E2E" stroke-width="4.0">2</text>
<text transform="translate(818.86,1381.08) scale(0.2380,0.3351)" font-size="100" fill="#2E2E2E" stroke="#2E2E2E" stroke-width="4.0">6</text>
<text transform="translate(917.15,1381.08) scale(0.2400,0.3351)" font-size="100" fill="#2E2E2E" stroke="#2E2E2E" stroke-width="4.0">2</text>
<text transform="translate(932.71,1381.08) scale(0.2380,0.3351)" font-size="100" fill="#2E2E2E" stroke="#2E2E2E" stroke-width="4.0">7</text>
<text transform="translate(1030.90,1381.08) scale(0.2400,0.3351)" font-size="100" fill="#2F8BCB" stroke="#2F8BCB" stroke-width="4.0">2</text>
<text transform="translate(1046.49,1381.08) scale(0.2412,0.3351)" font-size="100" fill="#2F8BCB" stroke="#2F8BCB" stroke-width="4.0">8</text>
<rect x="1232" y="1035.5" width="803" height="520" fill="#fff"/>
<rect x="1235.75" y="1092.00" width="113.00" height="50.80" fill="#B0CA96"/>
<rect x="1348.75" y="1092.00" width="113.95" height="50.80" fill="#B0D7EB"/>
<rect x="1462.70" y="1092.00" width="114.10" height="50.80" fill="#B0D7EB"/>
<rect x="1576.80" y="1092.00" width="113.00" height="50.80" fill="#B0D7EB"/>
<rect x="1689.80" y="1092.00" width="113.95" height="50.80" fill="#B0D7EB"/>
<rect x="1803.75" y="1092.00" width="113.75" height="50.80" fill="#B0CA96"/>
<rect x="1917.50" y="1092.00" width="113.75" height="50.80" fill="#FDDC80"/>
<rect x="1235.75" y="1193.00" width="113.00" height="50.70" fill="#B0CA96"/>
<rect x="1348.75" y="1193.00" width="113.95" height="50.70" fill="#B0D7EB"/>
<rect x="1462.70" y="1193.00" width="114.10" height="50.70" fill="#B0D7EB"/>
<rect x="1576.80" y="1193.00" width="113.00" height="50.70" fill="#B0D7EB"/>
<rect x="1689.80" y="1193.00" width="113.95" height="50.70" fill="#B0D7EB"/>
<rect x="1803.75" y="1193.00" width="113.75" height="50.70" fill="#B0CA96"/>
<rect x="1917.50" y="1193.00" width="113.75" height="50.70" fill="#FDDC80"/>
<rect x="1235.75" y="1294.00" width="113.00" height="51.00" fill="#B0CA96"/>
<rect x="1348.75" y="1294.00" width="113.95" height="51.00" fill="#B0D7EB"/>
<rect x="1462.70" y="1294.00" width="114.10" height="51.00" fill="#B0D7EB"/>
<rect x="1576.80" y="1294.00" width="113.00" height="51.00" fill="#B0D7EB"/>
<rect x="1689.80" y="1294.00" width="113.95" height="51.00" fill="#FDDC80"/>
<rect x="1803.75" y="1294.00" width="113.75" height="51.00" fill="#FDDC80"/>
<rect x="1917.50" y="1294.00" width="113.75" height="51.00" fill="#E28550"/>
<rect x="1235.75" y="1396.30" width="113.00" height="50.40" fill="#FDDC80"/>
<rect x="1348.75" y="1396.30" width="113.95" height="50.40" fill="#B0CA96"/>
<rect x="1462.70" y="1396.30" width="114.10" height="50.40" fill="#B0CA96"/>
<rect x="1576.80" y="1396.30" width="113.00" height="50.40" fill="#B0CA96"/>
<rect x="1689.80" y="1396.30" width="113.95" height="50.40" fill="#B0CA96"/>
<rect x="1803.75" y="1396.30" width="113.75" height="50.40" fill="#FDDC80"/>
<rect x="1917.50" y="1396.30" width="113.75" height="50.40" fill="#E28550"/>
<rect x="1235.75" y="1497.50" width="113.00" height="54.25" fill="#FDDC80"/>
<rect x="1348.75" y="1497.50" width="113.95" height="54.25" fill="#B0CA96"/>
<rect x="1462.70" y="1497.50" width="114.10" height="54.25" fill="#B0CA96"/>
<rect x="1232.00" y="1090.80" width="803.00" height="2.4" fill="#161616"/>
<rect x="1235.75" y="1141.60" width="795.5" height="2.4" fill="#161616"/>
<rect x="1232.00" y="1191.80" width="803.00" height="2.4" fill="#161616"/>
<rect x="1235.75" y="1242.50" width="795.5" height="2.4" fill="#161616"/>
<rect x="1232.00" y="1292.80" width="803.00" height="2.4" fill="#161616"/>
<rect x="1235.75" y="1343.80" width="795.5" height="2.4" fill="#161616"/>
<rect x="1232.00" y="1395.10" width="803.00" height="2.4" fill="#161616"/>
<rect x="1235.75" y="1445.50" width="795.5" height="2.4" fill="#161616"/>
<rect x="1232.00" y="1496.30" width="344.80" height="2.4" fill="#161616"/>
<rect x="1347.65" y="1039.25" width="2.2" height="512.5" fill="#161616"/>
<rect x="1461.60" y="1039.25" width="2.2" height="512.5" fill="#161616"/>
<rect x="1575.70" y="1039.25" width="2.2" height="512.5" fill="#161616"/>
<rect x="1688.70" y="1039.25" width="2.2" height="512.5" fill="#161616"/>
<rect x="1802.65" y="1039.25" width="2.2" height="512.5" fill="#161616"/>
<rect x="1916.40" y="1039.25" width="2.2" height="512.5" fill="#161616"/>
<rect x="1235.75" y="1039.25" width="795.5" height="512.5" fill="none" stroke="#3c3c3c" stroke-width="7.5"/>
<path d="M1294.44,1052.22 h3.01 V1077.02 h-3.01 Z" fill="#E5343F"/>
<path d="M1296.25,1052.22 L1294.44,1052.22 L1288.05,1055.20 L1288.43,1058.18 L1294.45,1056.19 Z" fill="#E5343F"/>
<text transform="translate(1400.00,1076.35) scale(0.2400,0.3351)" font-size="100" fill="#2E2E2E" stroke="#2E2E2E" stroke-width="4.0">2</text>
<text transform="translate(1514.33,1076.35) scale(0.2333,0.3351)" font-size="100" fill="#2E2E2E" stroke="#2E2E2E" stroke-width="4.0">3</text>
<text transform="translate(1627.60,1076.35) scale(0.2436,0.3351)" font-size="100" fill="#2E2E2E" stroke="#2E2E2E" stroke-width="4.0">4</text>
<text transform="translate(1741.47,1076.35) scale(0.2294,0.3351)" font-size="100" fill="#2E2E2E" stroke="#2E2E2E" stroke-width="4.0">5</text>
<text transform="translate(1854.96,1076.35) scale(0.2380,0.3351)" font-size="100" fill="#2E2E2E" stroke="#2E2E2E" stroke-width="4.0">6</text>
<text transform="translate(1968.71,1076.35) scale(0.2380,0.3351)" font-size="100" fill="#2F8BCB" stroke="#2F8BCB" stroke-width="4.0">7</text>
<text transform="translate(1286.62,1178.63) scale(0.2412,0.3351)" font-size="100" fill="#E5343F" stroke="#E5343F" stroke-width="4.0">8</text>
<text transform="translate(1399.89,1178.63) scale(0.2440,0.3351)" font-size="100" fill="#2E2E2E" stroke="#2E2E2E" stroke-width="4.0">9</text>
<path d="M1514.19,1154.50 h3.01 V1179.30 h-3.01 Z" fill="#2E2E2E"/>
<path d="M1516.00,1154.50 L1514.19,1154.50 L1507.80,1157.48 L1508.18,1160.45 L1514.20,1158.47 Z" fill="#2E2E2E"/>
<text transform="translate(1521.93,1178.63) scale(0.2346,0.3351)" font-size="100" fill="#2E2E2E" stroke="#2E2E2E" stroke-width="4.0">0</text>
<path d="M1627.74,1154.50 h3.01 V1179.30 h-3.01 Z" fill="#2E2E2E"/>
<path d="M1629.55,1154.50 L1627.74,1154.50 L1621.35,1157.48 L1621.73,1160.45 L1627.75,1158.47 Z" fill="#2E2E2E"/>
<path d="M1643.24,1154.50 h3.01 V1179.30 h-3.01 Z" fill="#2E2E2E"/>
<path d="M1645.05,1154.50 L1643.24,1154.50 L1636.85,1157.48 L1637.23,1160.45 L1643.25,1158.47 Z" fill="#2E2E2E"/>
<path d="M1741.22,1154.50 h3.01 V1179.30 h-3.01 Z" fill="#2E2E2E"/>
<path d="M1743.02,1154.50 L1741.22,1154.50 L1734.83,1157.48 L1735.20,1160.45 L1741.23,1158.47 Z" fill="#2E2E2E"/>
<text transform="translate(1748.81,1178.63) scale(0.2400,0.3351)" font-size="100" fill="#2E2E2E" stroke="#2E2E2E" stroke-width="4.0">2</text>
<path d="M1855.07,1154.50 h3.01 V1179.30 h-3.01 Z" fill="#2E2E2E"/>
<path d="M1856.87,1154.50 L1855.07,1154.50 L1848.67,1157.48 L1849.05,1160.45 L1855.08,1158.47 Z" fill="#2E2E2E"/>
<text transform="translate(1862.96,1178.63) scale(0.2333,0.3351)" font-size="100" fill="#2E2E2E" stroke="#2E2E2E" stroke-width="4.0">3</text>
<path d="M1968.82,1154.50 h3.01 V1179.30 h-3.01 Z" fill="#2F8BCB"/>
<path d="M1970.62,1154.50 L1968.82,1154.50 L1962.42,1157.48 L1962.80,1160.45 L1968.83,1158.47 Z" fill="#2F8BCB"/>
<text transform="translate(1976.42,1178.63) scale(0.2436,0.3351)" font-size="100" fill="#2F8BCB" stroke="#2F8BCB" stroke-width="4.0">4</text>
<path d="M1286.69,1255.45 h3.01 V1280.25 h-3.01 Z" fill="#E5343F"/>
<path d="M1288.50,1255.45 L1286.69,1255.45 L1280.30,1258.43 L1280.68,1261.40 L1286.70,1259.42 Z" fill="#E5343F"/>
<text transform="translate(1294.69,1279.58) scale(0.2294,0.3351)" font-size="100" fill="#E5343F" stroke="#E5343F" stroke-width="4.0">5</text>
<path d="M1400.17,1255.45 h3.01 V1280.25 h-3.01 Z" fill="#2E2E2E"/>
<path d="M1401.97,1255.45 L1400.17,1255.45 L1393.77,1258.43 L1394.15,1261.40 L1400.18,1259.42 Z" fill="#2E2E2E"/>
<text transform="translate(1407.81,1279.58) scale(0.2380,0.3351)" font-size="100" fill="#2E2E2E" stroke="#2E2E2E" stroke-width="4.0">6</text>
<path d="M1514.19,1255.45 h3.01 V1280.25 h-3.01 Z" fill="#2E2E2E"/>
<path d="M1516.00,1255.45 L1514.19,1255.45 L1507.80,1258.43 L1508.18,1261.40 L1514.20,1259.42 Z" fill="#2E2E2E"/>
<text transform="translate(1521.84,1279.58) scale(0.2380,0.3351)" font-size="100" fill="#2E2E2E" stroke="#2E2E2E" stroke-width="4.0">7</text>
<path d="M1627.74,1255.45 h3.01 V1280.25 h-3.01 Z" fill="#2E2E2E"/>
<path d="M1629.55,1255.45 L1627.74,1255.45 L1621.35,1258.43 L1621.73,1261.40 L1627.75,1259.42 Z" fill="#2E2E2E"/>
<text transform="translate(1635.42,1279.58) scale(0.2412,0.3351)" font-size="100" fill="#2E2E2E" stroke="#2E2E2E" stroke-width="4.0">8</text>
<path d="M1741.22,1255.45 h3.01 V1280.25 h-3.01 Z" fill="#2E2E2E"/>
<path d="M1743.02,1255.45 L1741.22,1255.45 L1734.83,1258.43 L1735.20,1261.40 L1741.23,1259.42 Z" fill="#2E2E2E"/>
<text transform="translate(1748.69,1279.58) scale(0.2440,0.3351)" font-size="100" fill="#2E2E2E" stroke="#2E2E2E" stroke-width="4.0">9</text>
<text transform="translate(1847.15,1279.58) scale(0.2400,0.3351)" font-size="100" fill="#E5343F" stroke="#E5343F" stroke-width="4.0">2</text>
<text transform="translate(1862.81,1279.58) scale(0.2346,0.3351)" font-size="100" fill="#E5343F" stroke="#E5343F" stroke-width="4.0">0</text>
<text transform="translate(1960.90,1279.58) scale(0.2400,0.3351)" font-size="100" fill="#2F8BCB" stroke="#2F8BCB" stroke-width="4.0">2</text>
<path d="M1984.32,1255.45 h3.01 V1280.25 h-3.01 Z" fill="#2F8BCB"/>
<path d="M1986.12,1255.45 L1984.32,1255.45 L1977.92,1258.43 L1978.30,1261.40 L1984.33,1259.42 Z" fill="#2F8BCB"/>
<text transform="translate(1278.78,1381.38) scale(0.2400,0.3351)" font-size="100" fill="#E5343F" stroke="#E5343F" stroke-width="4.0">2</text>
<text transform="translate(1294.28,1381.38) scale(0.2400,0.3351)" font-size="100" fill="#E5343F" stroke="#E5343F" stroke-width="4.0">2</text>
<text transform="translate(1392.25,1381.38) scale(0.2400,0.3351)" font-size="100" fill="#2E2E2E" stroke="#2E2E2E" stroke-width="4.0">2</text>
<text transform="translate(1408.06,1381.38) scale(0.2333,0.3351)" font-size="100" fill="#2E2E2E" stroke="#2E2E2E" stroke-width="4.0">3</text>
<text transform="translate(1506.28,1381.38) scale(0.2400,0.3351)" font-size="100" fill="#2E2E2E" stroke="#2E2E2E" stroke-width="4.0">2</text>
<text transform="translate(1521.80,1381.38) scale(0.2436,0.3351)" font-size="100" fill="#2E2E2E" stroke="#2E2E2E" stroke-width="4.0">4</text>
<text transform="translate(1619.83,1381.38) scale(0.2400,0.3351)" font-size="100" fill="#2E2E2E" stroke="#2E2E2E" stroke-width="4.0">2</text>
<text transform="translate(1635.74,1381.38) scale(0.2294,0.3351)" font-size="100" fill="#2E2E2E" stroke="#2E2E2E" stroke-width="4.0">5</text>
<text transform="translate(1733.31,1381.38) scale(0.2400,0.3351)" font-size="100" fill="#2E2E2E" stroke="#2E2E2E" stroke-width="4.0">2</text>
<text transform="translate(1748.86,1381.38) scale(0.2380,0.3351)" font-size="100" fill="#2E2E2E" stroke="#2E2E2E" stroke-width="4.0">6</text>
<text transform="translate(1847.15,1381.38) scale(0.2400,0.3351)" font-size="100" fill="#2E2E2E" stroke="#2E2E2E" stroke-width="4.0">2</text>
<text transform="translate(1862.71,1381.38) scale(0.2380,0.3351)" font-size="100" fill="#2E2E2E" stroke="#2E2E2E" stroke-width="4.0">7</text>
<text transform="translate(1960.90,1381.38) scale(0.2400,0.3351)" font-size="100" fill="#2F8BCB" stroke="#2F8BCB" stroke-width="4.0">2</text>
<text transform="translate(1976.49,1381.38) scale(0.2412,0.3351)" font-size="100" fill="#2F8BCB" stroke="#2F8BCB" stroke-width="4.0">8</text>
<text transform="translate(1278.78,1482.83) scale(0.2400,0.3351)" font-size="100" fill="#E5343F" stroke="#E5343F" stroke-width="4.0">2</text>
<text transform="translate(1294.17,1482.83) scale(0.2440,0.3351)" font-size="100" fill="#E5343F" stroke="#E5343F" stroke-width="4.0">9</text>
<text transform="translate(1392.56,1482.83) scale(0.2333,0.3351)" font-size="100" fill="#2E2E2E" stroke="#2E2E2E" stroke-width="4.0">3</text>
<text transform="translate(1407.91,1482.83) scale(0.2346,0.3351)" font-size="100" fill="#2E2E2E" stroke="#2E2E2E" stroke-width="4.0">0</text>
<text transform="translate(1506.58,1482.83) scale(0.2333,0.3351)" font-size="100" fill="#2E2E2E" stroke="#2E2E2E" stroke-width="4.0">3</text>
<path d="M1529.69,1458.70 h3.01 V1483.50 h-3.01 Z" fill="#2E2E2E"/>
<path d="M1531.50,1458.70 L1529.69,1458.70 L1523.30,1461.68 L1523.68,1464.65 L1529.70,1462.67 Z" fill="#2E2E2E"/>
<path transform="translate(352.07,148.00) scale(0.2300,0.2650)" d="M10,6 H92 V94 H10 Z M10,50 H92" fill="none" stroke="#E5343F" stroke-width="3.3" vector-effect="non-scaling-stroke" stroke-linecap="butt" stroke-linejoin="miter"/>
<path transform="translate(464.98,148.00) scale(0.2350,0.2650)" d="M5,98 Q24,84 24,58 V7 H92 V88 Q92,95 84,95 H62 M24,33 H92 M24,58 H92" fill="none" stroke="#2E2E2E" stroke-width="3.3" vector-effect="non-scaling-stroke" stroke-linecap="butt" stroke-linejoin="miter"/>
<path transform="translate(576.75,148.00) scale(0.2800,0.2650)" d="M20,32 L10,58 M88,24 L74,50 M50,3 V48 Q46,80 6,98 M53,60 Q72,86 96,97" fill="none" stroke="#2E2E2E" stroke-width="3.3" vector-effect="non-scaling-stroke" stroke-linecap="butt" stroke-linejoin="miter"/>
<path transform="translate(689.55,148.00) scale(0.2950,0.2650)" d="M50,3 V88 Q50,96 38,95 M8,38 H36 Q28,70 4,88 M60,50 L88,26 M58,50 Q74,80 97,92" fill="none" stroke="#2E2E2E" stroke-width="3.3" vector-effect="non-scaling-stroke" stroke-linecap="butt" stroke-linejoin="miter"/>
<path transform="translate(803.77,148.00) scale(0.2800,0.2650)" d="M5,26 H95 M50,2 V98 M48,32 Q32,66 5,86 M52,32 Q68,66 95,86" fill="none" stroke="#2E2E2E" stroke-width="3.3" vector-effect="non-scaling-stroke" stroke-linecap="butt" stroke-linejoin="miter"/>
<path transform="translate(917.62,148.00) scale(0.2800,0.2650)" d="M50,4 Q30,30 4,44 M50,4 Q70,30 96,44 M24,44 H76 M14,64 H86 M50,44 V94 M26,72 L34,88 M74,72 L66,88 M4,95 H96" fill="none" stroke="#2E2E2E" stroke-width="3.3" vector-effect="non-scaling-stroke" stroke-linecap="butt" stroke-linejoin="miter"/>
<path transform="translate(1031.00,148.00) scale(0.2950,0.2650)" d="M50,3 V92 M12,36 H88 M3,93 H97" fill="none" stroke="#2F8BCB" stroke-width="3.3" vector-effect="non-scaling-stroke" stroke-linecap="butt" stroke-linejoin="miter"/>
<path transform="translate(1282.08,148.00) scale(0.2300,0.2650)" d="M10,6 H92 V94 H10 Z M10,50 H92" fill="none" stroke="#E5343F" stroke-width="3.3" vector-effect="non-scaling-stroke" stroke-linecap="butt" stroke-linejoin="miter"/>
<path transform="translate(1394.97,148.00) scale(0.2350,0.2650)" d="M5,98 Q24,84 24,58 V7 H92 V88 Q92,95 84,95 H62 M24,33 H92 M24,58 H92" fill="none" stroke="#2E2E2E" stroke-width="3.3" vector-effect="non-scaling-stroke" stroke-linecap="butt" stroke-linejoin="miter"/>
<path transform="translate(1506.75,148.00) scale(0.2800,0.2650)" d="M20,32 L10,58 M88,24 L74,50 M50,3 V48 Q46,80 6,98 M53,60 Q72,86 96,97" fill="none" stroke="#2E2E2E" stroke-width="3.3" vector-effect="non-scaling-stroke" stroke-linecap="butt" stroke-linejoin="miter"/>
<path transform="translate(1619.55,148.00) scale(0.2950,0.2650)" d="M50,3 V88 Q50,96 38,95 M8,38 H36 Q28,70 4,88 M60,50 L88,26 M58,50 Q74,80 97,92" fill="none" stroke="#2E2E2E" stroke-width="3.3" vector-effect="non-scaling-stroke" stroke-linecap="butt" stroke-linejoin="miter"/>
<path transform="translate(1733.78,148.00) scale(0.2800,0.2650)" d="M5,26 H95 M50,2 V98 M48,32 Q32,66 5,86 M52,32 Q68,66 95,86" fill="none" stroke="#2E2E2E" stroke-width="3.3" vector-effect="non-scaling-stroke" stroke-linecap="butt" stroke-linejoin="miter"/>
<path transform="translate(1847.62,148.00) scale(0.2800,0.2650)" d="M50,4 Q30,30 4,44 M50,4 Q70,30 96,44 M24,44 H76 M14,64 H86 M50,44 V94 M26,72 L34,88 M74,72 L66,88 M4,95 H96" fill="none" stroke="#2E2E2E" stroke-width="3.3" vector-effect="non-scaling-stroke" stroke-linecap="butt" stroke-linejoin="miter"/>
<path transform="translate(1961.00,148.00) scale(0.2950,0.2650)" d="M50,3 V92 M12,36 H88 M3,93 H97" fill="none" stroke="#2F8BCB" stroke-width="3.3" vector-effect="non-scaling-stroke" stroke-linecap="butt" stroke-linejoin="miter"/>
<path transform="translate(352.07,999.00) scale(0.2300,0.2650)" d="M10,6 H92 V94 H10 Z M10,50 H92" fill="none" stroke="#E5343F" stroke-width="3.3" vector-effect="non-scaling-stroke" stroke-linecap="butt" stroke-linejoin="miter"/>
<path transform="translate(464.98,999.00) scale(0.2350,0.2650)" d="M5,98 Q24,84 24,58 V7 H92 V88 Q92,95 84,95 H62 M24,33 H92 M24,58 H92" fill="none" stroke="#2E2E2E" stroke-width="3.3" vector-effect="non-scaling-stroke" stroke-linecap="butt" stroke-linejoin="miter"/>
<path transform="translate(576.75,999.00) scale(0.2800,0.2650)" d="M20,32 L10,58 M88,24 L74,50 M50,3 V48 Q46,80 6,98 M53,60 Q72,86 96,97" fill="none" stroke="#2E2E2E" stroke-width="3.3" vector-effect="non-scaling-stroke" stroke-linecap="butt" stroke-linejoin="miter"/>
<path transform="translate(689.55,999.00) scale(0.2950,0.2650)" d="M50,3 V88 Q50,96 38,95 M8,38 H36 Q28,70 4,88 M60,50 L88,26 M58,50 Q74,80 97,92" fill="none" stroke="#2E2E2E" stroke-width="3.3" vector-effect="non-scaling-stroke" stroke-linecap="butt" stroke-linejoin="miter"/>
<path transform="translate(803.77,999.00) scale(0.2800,0.2650)" d="M5,26 H95 M50,2 V98 M48,32 Q32,66 5,86 M52,32 Q68,66 95,86" fill="none" stroke="#2E2E2E" stroke-width="3.3" vector-effect="non-scaling-stroke" stroke-linecap="butt" stroke-linejoin="miter"/>
<path transform="translate(917.62,999.00) scale(0.2800,0.2650)" d="M50,4 Q30,30 4,44 M50,4 Q70,30 96,44 M24,44 H76 M14,64 H86 M50,44 V94 M26,72 L34,88 M74,72 L66,88 M4,95 H96" fill="none" stroke="#2E2E2E" stroke-width="3.3" vector-effect="non-scaling-stroke" stroke-linecap="butt" stroke-linejoin="miter"/>
<path transform="translate(1031.00,999.00) scale(0.2950,0.2650)" d="M50,3 V92 M12,36 H88 M3,93 H97" fill="none" stroke="#2F8BCB" stroke-width="3.3" vector-effect="non-scaling-stroke" stroke-linecap="butt" stroke-linejoin="miter"/>
<path transform="translate(1282.08,999.00) scale(0.2300,0.2650)" d="M10,6 H92 V94 H10 Z M10,50 H92" fill="none" stroke="#E5343F" stroke-width="3.3" vector-effect="non-scaling-stroke" stroke-linecap="butt" stroke-linejoin="miter"/>
<path transform="translate(1394.97,999.00) scale(0.2350,0.2650)" d="M5,98 Q24,84 24,58 V7 H92 V88 Q92,95 84,95 H62 M24,33 H92 M24,58 H92" fill="none" stroke="#2E2E2E" stroke-width="3.3" vector-effect="non-scaling-stroke" stroke-linecap="butt" stroke-linejoin="miter"/>
<path transform="translate(1506.75,999.00) scale(0.2800,0.2650)" d="M20,32 L10,58 M88,24 L74,50 M50,3 V48 Q46,80 6,98 M53,60 Q72,86 96,97" fill="none" stroke="#2E2E2E" stroke-width="3.3" vector-effect="non-scaling-stroke" stroke-linecap="butt" stroke-linejoin="miter"/>
<path transform="translate(1619.55,999.00) scale(0.2950,0.2650)" d="M50,3 V88 Q50,96 38,95 M8,38 H36 Q28,70 4,88 M60,50 L88,26 M58,50 Q74,80 97,92" fill="none" stroke="#2E2E2E" stroke-width="3.3" vector-effect="non-scaling-stroke" stroke-linecap="butt" stroke-linejoin="miter"/>
<path transform="translate(1733.78,999.00) scale(0.2800,0.2650)" d="M5,26 H95 M50,2 V98 M48,32 Q32,66 5,86 M52,32 Q68,66 95,86" fill="none" stroke="#2E2E2E" stroke-width="3.3" vector-effect="non-scaling-stroke" stroke-linecap="butt" stroke-linejoin="miter"/>
<path transform="translate(1847.62,999.00) scale(0.2800,0.2650)" d="M50,4 Q30,30 4,44 M50,4 Q70,30 96,44 M24,44 H76 M14,64 H86 M50,44 V94 M26,72 L34,88 M74,72 L66,88 M4,95 H96" fill="none" stroke="#2E2E2E" stroke-width="3.3" vector-effect="non-scaling-stroke" stroke-linecap="butt" stroke-linejoin="miter"/>
<path transform="translate(1961.00,999.00) scale(0.2950,0.2650)" d="M50,3 V92 M12,36 H88 M3,93 H97" fill="none" stroke="#2F8BCB" stroke-width="3.3" vector-effect="non-scaling-stroke" stroke-linecap="butt" stroke-linejoin="miter"/>
<text transform="translate(464.74,110.41) scale(0.6949,0.6433)" font-size="100" fill="#3A3A3A" stroke="#3A3A3A" stroke-width="1.2">2</text>
<text transform="translate(519.10,110.41) scale(0.7053,0.6433)" font-size="100" fill="#3A3A3A" stroke="#3A3A3A" stroke-width="1.2">0</text>
<text transform="translate(574.65,110.41) scale(0.6928,0.6433)" font-size="100" fill="#3A3A3A" stroke="#3A3A3A" stroke-width="1.2">2</text>
<text transform="translate(631.03,110.41) scale(0.6680,0.6433)" font-size="100" fill="#3A3A3A" stroke="#3A3A3A" stroke-width="1.2">5</text>
<path transform="translate(678.20,61.80) scale(0.5270,0.5310)" d="M29,3 Q20,22 6,35 M25,16 H94 M24,44 H88 M22,44 V70 M2,70 H98 M55,16 V100" fill="none" stroke="#3A3A3A" stroke-width="6.0" vector-effect="non-scaling-stroke" stroke-linecap="butt" stroke-linejoin="miter"/>
<path d="M813.77,65.00 h6.73 V110.80 h-6.73 Z" fill="#3A3A3A"/>
<path d="M817.81,65.00 L813.77,65.00 L800.70,70.50 L801.49,75.99 L813.78,72.33 Z" fill="#3A3A3A"/>
<text transform="translate(850.72,110.41) scale(0.6992,0.6433)" font-size="100" fill="#3A3A3A" stroke="#3A3A3A" stroke-width="1.2">2</text>
<path transform="translate(902.00,63.40) scale(0.4220,0.5120)" d="M5,98 Q24,84 24,58 V7 H92 V88 Q92,95 84,95 H62 M24,33 H92 M24,58 H92" fill="none" stroke="#3A3A3A" stroke-width="6.0" vector-effect="non-scaling-stroke" stroke-linecap="butt" stroke-linejoin="miter"/>
<text transform="translate(1421.80,110.61) scale(0.7055,0.6531)" font-size="100" fill="#3A3A3A" stroke="#3A3A3A" stroke-width="1.2">2</text>
<text transform="translate(1477.09,110.61) scale(0.7093,0.6531)" font-size="100" fill="#3A3A3A" stroke="#3A3A3A" stroke-width="1.2">0</text>
<text transform="translate(1532.43,110.61) scale(0.6970,0.6531)" font-size="100" fill="#3A3A3A" stroke="#3A3A3A" stroke-width="1.2">2</text>
<text transform="translate(1587.46,110.61) scale(0.7140,0.6531)" font-size="100" fill="#3A3A3A" stroke="#3A3A3A" stroke-width="1.2">6</text>
<path transform="translate(1635.90,61.30) scale(0.5290,0.5380)" d="M29,3 Q20,22 6,35 M25,16 H94 M24,44 H88 M22,44 V70 M2,70 H98 M55,16 V100" fill="none" stroke="#3A3A3A" stroke-width="6.0" vector-effect="non-scaling-stroke" stroke-linecap="butt" stroke-linejoin="miter"/>
<path d="M1771.66,64.50 h7.04 V111.00 h-7.04 Z" fill="#3A3A3A"/>
<path d="M1775.88,64.50 L1771.66,64.50 L1758.00,70.08 L1758.83,75.66 L1771.67,71.94 Z" fill="#3A3A3A"/>
<path transform="translate(1804.70,62.90) scale(0.4220,0.5190)" d="M5,98 Q24,84 24,58 V7 H92 V88 Q92,95 84,95 H62 M24,33 H92 M24,58 H92" fill="none" stroke="#3A3A3A" stroke-width="6.0" vector-effect="non-scaling-stroke" stroke-linecap="butt" stroke-linejoin="miter"/>
<text transform="translate(492.05,961.31) scale(0.6928,0.6489)" font-size="100" fill="#3A3A3A" stroke="#3A3A3A" stroke-width="1.2">2</text>
<text transform="translate(546.92,961.31) scale(0.6992,0.6489)" font-size="100" fill="#3A3A3A" stroke="#3A3A3A" stroke-width="1.2">0</text>
<text transform="translate(601.95,961.31) scale(0.6928,0.6489)" font-size="100" fill="#3A3A3A" stroke="#3A3A3A" stroke-width="1.2">2</text>
<text transform="translate(657.30,961.31) scale(0.7055,0.6489)" font-size="100" fill="#3A3A3A" stroke="#3A3A3A" stroke-width="1.2">6</text>
<path transform="translate(705.50,912.30) scale(0.5260,0.5350)" d="M29,3 Q20,22 6,35 M25,16 H94 M24,44 H88 M22,44 V70 M2,70 H98 M55,16 V100" fill="none" stroke="#3A3A3A" stroke-width="6.0" vector-effect="non-scaling-stroke" stroke-linecap="butt" stroke-linejoin="miter"/>
<text transform="translate(822.95,961.31) scale(0.6928,0.6489)" font-size="100" fill="#3A3A3A" stroke="#3A3A3A" stroke-width="1.2">2</text>
<path transform="translate(874.30,913.90) scale(0.4280,0.5160)" d="M5,98 Q24,84 24,58 V7 H92 V88 Q92,95 84,95 H62 M24,33 H92 M24,58 H92" fill="none" stroke="#3A3A3A" stroke-width="6.0" vector-effect="non-scaling-stroke" stroke-linecap="butt" stroke-linejoin="miter"/>
<text transform="translate(1421.80,961.81) scale(0.7055,0.6489)" font-size="100" fill="#3A3A3A" stroke="#3A3A3A" stroke-width="1.2">2</text>
<text transform="translate(1477.09,961.81) scale(0.7093,0.6489)" font-size="100" fill="#3A3A3A" stroke="#3A3A3A" stroke-width="1.2">0</text>
<text transform="translate(1532.43,961.81) scale(0.6970,0.6489)" font-size="100" fill="#3A3A3A" stroke="#3A3A3A" stroke-width="1.2">2</text>
<text transform="translate(1587.46,961.81) scale(0.7140,0.6489)" font-size="100" fill="#3A3A3A" stroke="#3A3A3A" stroke-width="1.2">6</text>
<path transform="translate(1635.90,912.80) scale(0.5290,0.5350)" d="M29,3 Q20,22 6,35 M25,16 H94 M24,44 H88 M22,44 V70 M2,70 H98 M55,16 V100" fill="none" stroke="#3A3A3A" stroke-width="6.0" vector-effect="non-scaling-stroke" stroke-linecap="butt" stroke-linejoin="miter"/>
<text transform="translate(1751.87,961.81) scale(0.7137,0.6489)" font-size="100" fill="#3A3A3A" stroke="#3A3A3A" stroke-width="1.2">3</text>
<path transform="translate(1804.30,914.40) scale(0.4260,0.5160)" d="M5,98 Q24,84 24,58 V7 H92 V88 Q92,95 84,95 H62 M24,33 H92 M24,58 H92" fill="none" stroke="#3A3A3A" stroke-width="6.0" vector-effect="non-scaling-stroke" stroke-linecap="butt" stroke-linejoin="miter"/>
</svg>
</body></html>
